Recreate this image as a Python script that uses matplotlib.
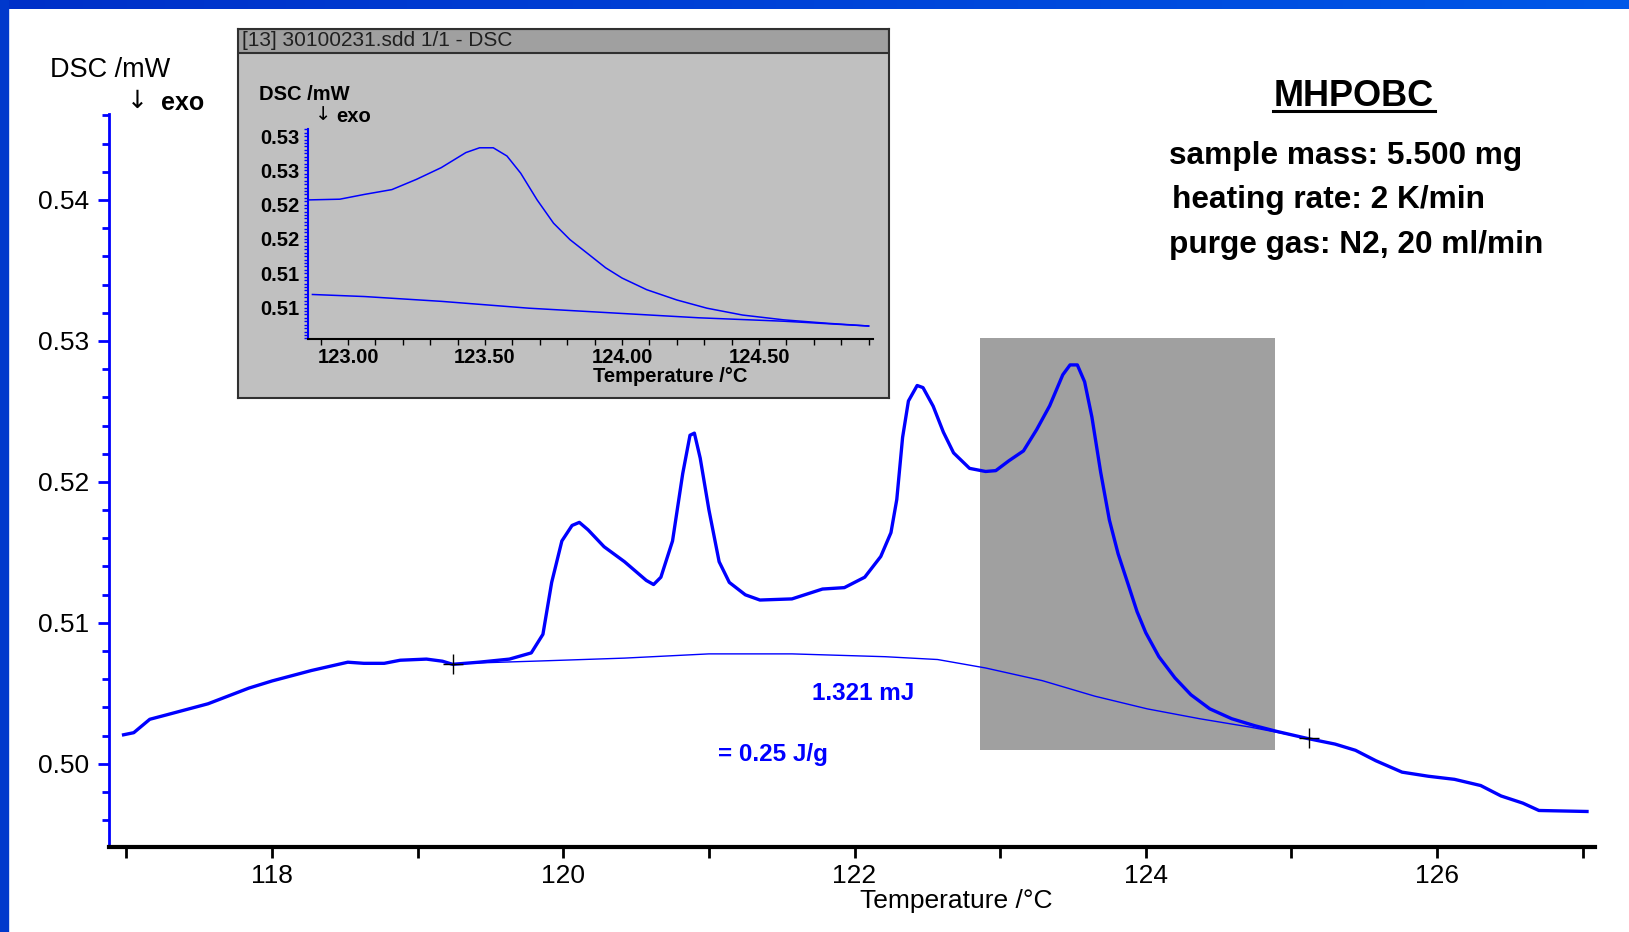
import matplotlib.pyplot as plt
import numpy as np
from matplotlib.patches import Rectangle
from matplotlib.lines import Line2D
from matplotlib.ticker import MultipleLocator, FixedLocator

plt.rcParams['font.family'] = ['Liberation Sans', 'DejaVu Sans']

# main DSC curve
temp = [116.98, 117.05, 117.16, 117.27, 117.56, 117.84, 118.00, 118.27, 118.52, 118.63,
        118.77, 118.88, 119.06, 119.17, 119.24, 119.42, 119.63, 119.78, 119.86, 119.92,
        119.99, 120.06, 120.11, 120.17, 120.28, 120.42, 120.57, 120.62, 120.67, 120.75,
        120.82, 120.87, 120.90, 120.94, 121.00, 121.07, 121.14, 121.25, 121.35, 121.57,
        121.78, 121.93, 122.07, 122.18, 122.25, 122.29, 122.33, 122.37, 122.43, 122.47,
        122.54, 122.61, 122.68, 122.79, 122.90, 122.97, 123.06, 123.16, 123.25, 123.34,
        123.43, 123.48, 123.53, 123.58, 123.63, 123.69, 123.75, 123.81, 123.88, 123.94,
        124.00, 124.09, 124.20, 124.31, 124.44, 124.59, 124.75, 124.90, 125.11, 125.30,
        125.44, 125.58, 125.76, 125.94, 126.12, 126.30, 126.44, 126.59, 126.70, 127.03]
dsc = [0.50206, 0.50221, 0.50316, 0.50346, 0.50426, 0.50537, 0.50588, 0.50662, 0.50721, 0.50713,
       0.50713, 0.50735, 0.50743, 0.50728, 0.50706, 0.50721, 0.50743, 0.50787, 0.50919, 0.51287,
       0.51581, 0.51691, 0.51713, 0.51660, 0.51540, 0.51434, 0.51301, 0.51272, 0.51324, 0.51581,
       0.52059, 0.52331, 0.52346, 0.52169, 0.51801, 0.51434, 0.51287, 0.51199, 0.51162, 0.51170,
       0.51240, 0.51250, 0.51324, 0.51471, 0.51640, 0.51875, 0.52316, 0.52574, 0.52684, 0.52669,
       0.52537, 0.52353, 0.52206, 0.52096, 0.52074, 0.52080, 0.52150, 0.52220, 0.52370, 0.52540,
       0.52760, 0.52830, 0.52830, 0.52710, 0.52460, 0.52070, 0.51730, 0.51490, 0.51270, 0.51080,
       0.50930, 0.50760, 0.50610, 0.50490, 0.50390, 0.50320, 0.50270, 0.50230, 0.50180, 0.50140,
       0.50096, 0.50022, 0.49941, 0.49912, 0.49890, 0.49846, 0.49772, 0.49721, 0.49669, 0.49662]

# integration baseline
base_t = [119.24, 119.85, 120.42, 121.00, 121.57, 122.21, 122.57, 122.90, 123.29, 123.65,
          124.01, 124.37, 124.72, 125.12]
base_dsc = [0.50710, 0.50730, 0.50750, 0.50780, 0.50780, 0.50760, 0.50740, 0.50680, 0.50590, 0.50480,
            0.50390, 0.50320, 0.50260, 0.50180]
limit_t = [119.24, 125.12]
limit_dsc = [0.50710, 0.50180]

# zoomed peak (inset)
zoom_t = [122.86, 122.97, 123.06, 123.16, 123.25, 123.34, 123.43, 123.48, 123.53, 123.58,
          123.63, 123.69, 123.75, 123.81, 123.88, 123.94, 124.00, 124.09, 124.20, 124.31,
          124.44, 124.59, 124.75, 124.90]
zoom_dsc = [0.5207, 0.5208, 0.5215, 0.5222, 0.5237, 0.5254, 0.5276, 0.5283, 0.5283, 0.5271,
            0.5246, 0.5207, 0.5173, 0.5149, 0.5127, 0.5108, 0.5093, 0.5076, 0.5061, 0.5049,
            0.5039, 0.5032, 0.5027, 0.5023]
zoom_base_t = [122.87, 123.06, 123.34, 123.66, 123.97, 124.28, 124.59, 124.90]
zoom_base_dsc = [0.5069, 0.5066, 0.5059, 0.5049, 0.5042, 0.5035, 0.5030, 0.5023]
zoom_yticks = [0.530, 0.525, 0.520, 0.515, 0.510, 0.505]
zoom_ylabels = ['0.53', '0.53', '0.52', '0.52', '0.51', '0.51']
zoom_xticks = [123.0, 123.5, 124.0, 124.5]
zoom_xlabels = ['123.00', '123.50', '124.00', '124.50']

main_xticks = [118, 120, 122, 124, 126]
main_yticks = [0.50, 0.51, 0.52, 0.53, 0.54]

W, H = 1629, 932
fig = plt.figure(figsize=(W / 100, H / 100), dpi=100)
fig.patch.set_facecolor('white')

# blue frame on top and left
top = fig.add_axes([0, 1 - 9 / H, 1, 9 / H])
top.imshow(np.linspace(0, 1, 256)[None, :], aspect='auto',
           cmap=plt.matplotlib.colors.LinearSegmentedColormap.from_list('b', ['#0030c8', '#0058e8']))
top.axis('off')
fig.add_artist(Rectangle((0, 0), 8 / W, 1, transform=fig.transFigure, color='#0038cc', zorder=5))

# main axes
ax = fig.add_axes([109 / W, 85 / H, (1595 - 109) / W, (847 - 114) / H])
ax.set_xlim(116.88, 127.085)
ax.set_ylim(0.4941, 0.5461)
ax.add_patch(Rectangle((122.86, 0.50097), 124.89 - 122.86, 0.5302 - 0.50097,
                       facecolor='#a0a0a0', edgecolor='none', zorder=1))
ax.plot(base_t, base_dsc, color='#0000ff', lw=1.0, zorder=2)
ax.plot(temp, dsc, color='#0000ff', lw=2.4, zorder=3)
ax.plot(limit_t, limit_dsc, '+', color='black', ms=14, mew=1.0, zorder=4)
ax.text(121.71, 0.50500, '1.321 mJ', color='#0000ff', fontsize=17.5, fontweight='bold', va='center')
ax.text(121.06, 0.50066, '= 0.25 J/g', color='#0000ff', fontsize=17.5, fontweight='bold', va='center')

for s in ['top', 'right']:
    ax.spines[s].set_visible(False)
ax.spines['left'].set_color('#0000ff')
ax.spines['left'].set_linewidth(2)
ax.spines['bottom'].set_color('black')
ax.spines['bottom'].set_linewidth(3)
ax.set_xticks(main_xticks)
ax.xaxis.set_minor_locator(MultipleLocator(1))
ax.set_yticks(main_yticks)
ax.set_yticklabels(['0.50', '0.51', '0.52', '0.53', '0.54'])
ax.yaxis.set_minor_locator(MultipleLocator(0.002))
ax.tick_params(axis='x', which='both', direction='out', color='black', width=2, length=8,
               labelsize=19, pad=4)
ax.tick_params(axis='y', which='major', direction='out', color='#0000ff', width=2, length=8,
               labelsize=19, pad=6)
ax.tick_params(axis='y', which='minor', direction='out', color='#0000ff', width=2, length=5)
ax.patch.set_alpha(0)

fig.text(956 / W, 1 - 901 / H, 'Temperature /°C', fontsize=19, ha='center', va='center')
fig.text(50 / W, 1 - 70 / H, 'DSC /mW', fontsize=19.5, ha='left', va='center')
fig.text(127 / W, 1 - 101 / H, '↓', fontsize=18, ha='left', va='center', family=['DejaVu Sans'])
fig.text(161 / W, 1 - 103 / H, 'exo', fontsize=18, ha='left', va='center', fontweight='bold')

# sample info
fig.text(1354 / W, 1 - 96 / H, 'MHPOBC', fontsize=26, fontweight='bold', ha='center', va='center')
fig.add_artist(Line2D([1273 / W, 1435 / W], [1 - 111 / H, 1 - 111 / H], color='black', lw=2.2,
                      transform=fig.transFigure))
fig.text(1169 / W, 1 - 156 / H, 'sample mass: 5.500 mg', fontsize=22.8, fontweight='bold', va='center')
fig.text(1172 / W, 1 - 200 / H, 'heating rate: 2 K/min', fontsize=22.8, fontweight='bold', va='center')
fig.text(1169 / W, 1 - 245 / H, 'purge gas: N2, 20 ml/min', fontsize=22.8, fontweight='bold', va='center')

# inset window
box = fig.add_axes([238 / W, 1 - 398 / H, (889 - 238) / W, (398 - 29) / H])
box.set_facecolor('#c0c0c0')
box.set_xticks([])
box.set_yticks([])
for s in box.spines.values():
    s.set_color('#303030')
    s.set_linewidth(1.5)
bar_h = 24 / (398 - 29)
box.add_patch(Rectangle((0, 1 - bar_h), 1, bar_h, transform=box.transAxes,
                        facecolor='#a0a0a0', edgecolor='#303030', lw=1.5))
box.text(4 / 651, 1 - bar_h / 2, '[13] 30100231.sdd 1/1 - DSC', transform=box.transAxes,
         fontsize=15, va='center', ha='left', color='#202020',
         family=['Liberation Sans Narrow', 'Liberation Sans'])

ins = fig.add_axes([307.5 / W, 1 - 338.7 / H, (873 - 307.5) / W, (338.7 - 129) / H])
ins.patch.set_alpha(0)
ins.set_xlim(122.852, 124.916)
ins.set_ylim(0.50045, 0.53104)
ins.plot(zoom_base_t, zoom_base_dsc, color='#0000ff', lw=1.1)
ins.plot(zoom_t, zoom_dsc, color='#0000ff', lw=1.1)
for s in ['top', 'right']:
    ins.spines[s].set_visible(False)
ins.spines['left'].set_color('#0000ff')
ins.spines['left'].set_linewidth(1.5)
ins.spines['bottom'].set_color('black')
ins.spines['bottom'].set_linewidth(1.5)
ins.xaxis.set_major_locator(FixedLocator(zoom_xticks))
ins.set_xticklabels(zoom_xlabels)
ins.xaxis.set_minor_locator(MultipleLocator(0.1))
ins.yaxis.set_major_locator(FixedLocator(zoom_yticks))
ins.set_yticklabels(zoom_ylabels)
ins.yaxis.set_minor_locator(MultipleLocator(0.0005))
ins.tick_params(axis='x', which='both', direction='out', color='black', length=4, width=1,
                labelsize=14.5, pad=3)
ins.tick_params(axis='y', which='both', direction='out', color='#0000ff', length=3, width=1,
                labelsize=14.5, pad=3)
for lab in ins.get_xticklabels() + ins.get_yticklabels():
    lab.set_fontweight('bold')
fig.text(670 / W, 1 - 377 / H, 'Temperature /°C', fontsize=14.5, fontweight='bold',
         ha='center', va='center')
fig.text(259 / W, 1 - 95 / H, 'DSC /mW', fontsize=14.5, fontweight='bold', ha='left', va='center')
fig.text(315 / W, 1 - 114 / H, '↓', fontsize=14, ha='left', va='center', family=['DejaVu Sans'])
fig.text(336 / W, 1 - 117 / H, 'exo', fontsize=14.5, fontweight='bold', ha='left', va='center')

fig.savefig('out.png', dpi=100, facecolor='white')
